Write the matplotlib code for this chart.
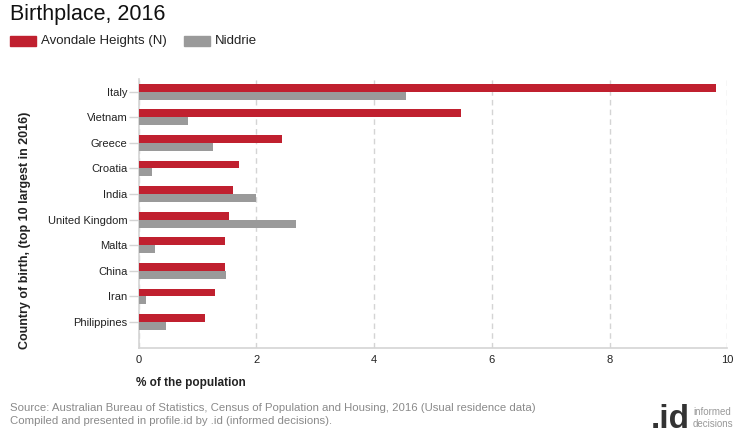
import numpy as np
import matplotlib.pyplot as plt

plt.rcParams['font.family'] = ['Liberation Sans', 'DejaVu Sans']

countries = ["Italy", "Vietnam", "Greece", "Croatia", "India", "United Kingdom",
             "Malta", "China", "Iran", "Philippines"]
avondale = [9.80, 5.48, 2.43, 1.70, 1.60, 1.53, 1.46, 1.46, 1.29, 1.12]
niddrie = [4.55, 0.83, 1.26, 0.22, 2.00, 2.68, 0.27, 1.49, 0.12, 0.46]
series_names = ["Avondale Heights (N)", "Niddrie"]
xticks = [0, 2, 4, 6, 8, 10]

RED = "#c0202f"
GREY = "#9a9a9a"
GRID = "#d4d4d4"

fig = plt.figure(figsize=(7.4, 4.4), dpi=100)
ax = fig.add_axes([0.1874, 0.2098, 0.7954, 0.6109])

y = np.arange(len(countries))
h = 0.31
ax.barh(y - h / 2, avondale, height=h, color=RED, zorder=3)
ax.barh(y + h / 2, niddrie, height=h, color=GREY, zorder=3)

ax.set_xlim(0, 10)
ax.set_ylim(10, -0.5)
ax.set_xticks(xticks)
ax.set_xticklabels([str(t) for t in xticks], fontsize=8, color="#222222")
ax.set_yticks(y)
ax.set_yticklabels(countries, fontsize=8, color="#222222")
ax.tick_params(axis="y", length=7, color=GRID, pad=1, width=1)
ax.tick_params(axis="x", length=0, pad=5)
for t in ax.yaxis.get_ticklines():
    t.set_linestyle((0, (2, 2)))
ax.grid(axis="x", color=GRID, linestyle=(0, (4, 3)), linewidth=1, zorder=0)
for s in ["top", "right"]:
    ax.spines[s].set_visible(False)
for s in ["left", "bottom"]:
    ax.spines[s].set_color(GRID)
    ax.spines[s].set_linewidth(1.2)

fig.text(0.184, 0.13, "% of the population", fontsize=8.5, fontweight="bold",
         color="#222222", ha="left", va="center")
fig.text(0.034, 0.477, "Country of birth, (top 10 largest in 2016)", fontsize=9,
         fontweight="bold", color="#222222", rotation=90, ha="center", va="center")

# title and legend
fig.text(0.0135, 0.968, "Birthplace, 2016", fontsize=15.5, color="#111111",
         ha="left", va="center")
fig.patches.append(plt.Rectangle((10 / 740, 1 - 46 / 440), 26 / 740, 10 / 440,
                                 transform=fig.transFigure, color=RED))
fig.text(41 / 740, 1 - 41 / 440, series_names[0], fontsize=9.5, color="#222222",
         ha="left", va="center")
fig.patches.append(plt.Rectangle((184 / 740, 1 - 46 / 440), 26 / 740, 10 / 440,
                                 transform=fig.transFigure, color=GREY))
fig.text(215 / 740, 1 - 41 / 440, series_names[1], fontsize=9.5, color="#222222",
         ha="left", va="center")

# source
fig.text(10 / 740, 1 - 408 / 440,
         "Source: Australian Bureau of Statistics, Census of Population and Housing, 2016 (Usual residence data)",
         fontsize=8.2, color="#8a8a8a", ha="left", va="center")
fig.text(10 / 740, 1 - 421 / 440,
         "Compiled and presented in profile.id by .id (informed decisions).",
         fontsize=8.2, color="#8a8a8a", ha="left", va="center")

# logo
fig.text(690 / 740, 1 - 419 / 440, ".id", fontsize=24, fontweight="bold",
         color="#333333", ha="right", va="center")
fig.text(693 / 740, 1 - 412 / 440, "informed", fontsize=7, color="#999999",
         ha="left", va="center")
fig.text(693 / 740, 1 - 424 / 440, "decisions", fontsize=7, color="#999999",
         ha="left", va="center")

fig.savefig("out.png", dpi=100)
